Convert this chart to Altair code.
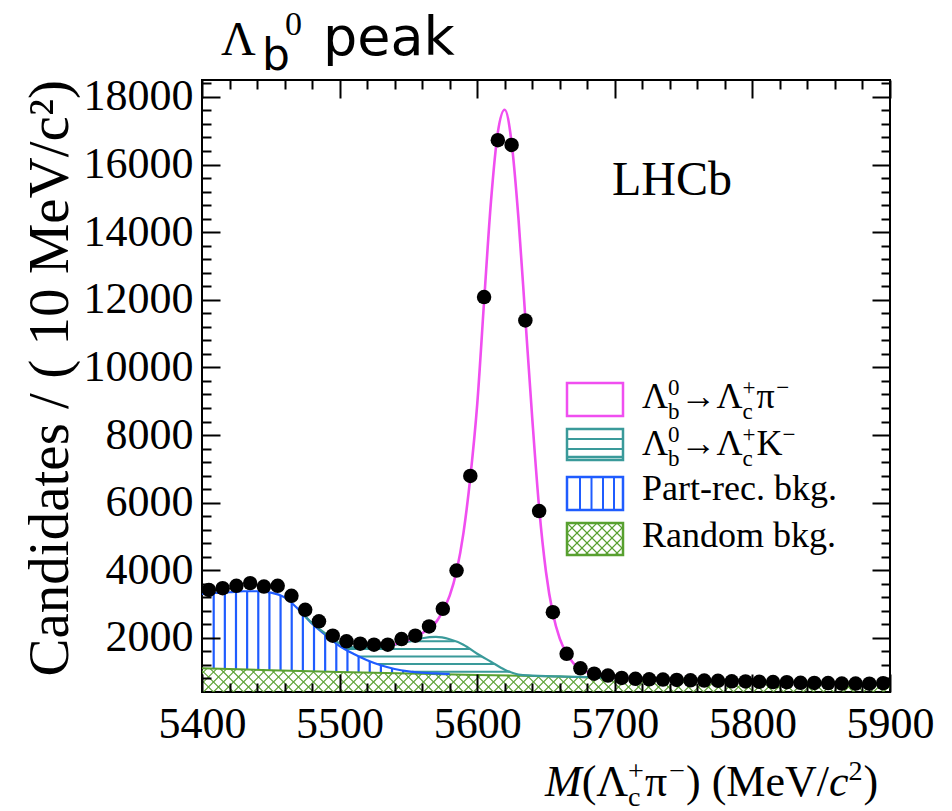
import numpy as np
import pandas as pd
import altair as alt

# ---------------------------------------------------------------
# Binned Lambda_c+ pi- invariant mass (10 MeV/c^2 bins)
# ---------------------------------------------------------------
mass = [5405, 5415, 5425, 5435, 5445, 5455, 5465, 5475, 5485, 5495,
        5505, 5515, 5525, 5535, 5545, 5555, 5565, 5575, 5585, 5595,
        5605, 5615, 5625, 5635, 5645, 5655, 5665, 5675, 5685, 5695,
        5705, 5715, 5725, 5735, 5745, 5755, 5765, 5775, 5785, 5795,
        5805, 5815, 5825, 5835, 5845, 5855, 5865, 5875, 5885, 5895]
candidates = [3420, 3470, 3540, 3620, 3520, 3540, 3245, 2830, 2490, 2065,
              1900, 1830, 1800, 1800, 1965, 2065, 2340, 2860, 3990, 6790,
              12080, 16720, 16580, 11390, 5750, 2760, 1530, 1100, 940, 885,
              817, 790, 775, 767, 755, 746, 740, 730, 717, 712,
              700, 695, 690, 672, 668, 665, 650, 648, 645, 660]

# Fit components, stacked (each array is the cumulative top of that component)
random_m = [5400, 5450, 5500, 5550, 5600, 5650, 5700, 5750, 5800, 5850, 5900]
random_v = [1105, 1045, 990, 945, 905, 865, 815, 770, 730, 690, 655]

partrec_m = [5400, 5410, 5420, 5430, 5440, 5450, 5460, 5470, 5480, 5490,
             5500, 5510, 5520, 5530, 5540, 5550, 5560, 5570, 5580]
partrec_v = [3300, 3330, 3350, 3380, 3380, 3340, 3200, 2850, 2420, 2080,
             1760, 1530, 1340, 1190, 1080, 1010, 970, 950, 935]

kaon_m = [5470, 5480, 5490, 5500, 5510, 5520, 5530, 5540, 5550, 5560,
          5570, 5580, 5590, 5600, 5610, 5620, 5630, 5640, 5650, 5660,
          5670, 5680, 5690, 5700]
kaon_v = [2850, 2440, 2120, 1840, 1720, 1700, 1720, 1790, 1890, 1990,
          2030, 1960, 1800, 1530, 1295, 1060, 915, 885, 868, 860,
          850, 838, 826, 816]

total_m = [5540, 5545, 5550, 5555, 5560, 5565, 5570, 5575, 5580, 5585,
           5590, 5595, 5600, 5605, 5610, 5615, 5620, 5625, 5630, 5635,
           5640, 5645, 5650, 5655, 5660, 5665, 5670, 5675, 5680, 5685,
           5690, 5695, 5700, 5710, 5720]
total_v = [1810, 1870, 1935, 2030, 2140, 2275, 2460, 2800, 3250, 3970,
           5100, 6750, 8900, 11950, 14900, 16950, 17620, 16650, 14400, 11450,
           8500, 5850, 3950, 2720, 1980, 1540, 1250, 1090, 990, 935,
           895, 865, 845, 815, 800]

x_major = [5400, 5500, 5600, 5700, 5800, 5900]
y_major = [2000, 4000, 6000, 8000, 10000, 12000, 14000, 16000, 18000]

# ---------------------------------------------------------------
# Frame geometry and styling
# ---------------------------------------------------------------
W, H = 688, 612
X0, Y0 = 202, 80
XDOM = [5400, 5900]
YDOM = [400, 18500]
SERIF = "Liberation Serif"
SANS = "DejaVu Sans"
MAGENTA = "#f04ef0"
TEAL = "#3a9a9a"
BLUE = "#1f5cff"
GREEN = "#58a030"

xs = alt.Scale(domain=XDOM, nice=False, zero=False)
ys = alt.Scale(domain=YDOM, nice=False, zero=False)

x_minor = [v for v in range(5420, 5900, 20) if v % 100]
y_minor = [v for v in range(800, 18500, 400) if v % 2000]

ONE = pd.DataFrame({"k": [0]})


def xenc(field):
    return alt.X(f"{field}:Q", scale=xs, axis=None)


def yenc(field):
    return alt.Y(f"{field}:Q", scale=ys, axis=None)


# ---------------------------------------------------------------
# Hatching of the stacked background components
# ---------------------------------------------------------------
kx = W / (XDOM[1] - XDOM[0])
ky = H / (YDOM[1] - YDOM[0])
slope = kx / ky  # counts per MeV for a 45 degree line on screen

fine = np.linspace(XDOM[0], XDOM[1], 10001)
g_fine = np.interp(fine, random_m, random_v)


def runs(mask):
    edges = np.flatnonzero(np.diff(np.concatenate([[0], mask.astype(int), [0]])))
    return list(zip(edges[::2], edges[1::2] - 1))


# green cross-hatch between the frame bottom and the random background
cross = []
for m0 in np.arange(5372.0, 5912.0, 10.0 / kx):
    for sgn in (1, -1):
        v = YDOM[0] + sgn * slope * (fine - m0)
        mask = (v >= YDOM[0]) & (v <= g_fine)
        for a, b in runs(mask):
            cross.append({"m1": fine[a], "v1": v[a], "m2": fine[b], "v2": v[b]})
cross_df = pd.DataFrame(cross)

# blue vertical hatch for the partially reconstructed background
vert_m = np.arange(5408.5, 5575.0, 8.1)
vert_lo = np.interp(vert_m, random_m, random_v)
vert_hi = np.interp(vert_m, partrec_m, partrec_v)
keep = vert_hi - vert_lo > 8
vert_df = pd.DataFrame({"m": vert_m[keep], "lo": vert_lo[keep], "hi": vert_hi[keep]})

# teal horizontal hatch for the misidentified Lambda_b -> Lambda_c K
kf = np.linspace(kaon_m[0], kaon_m[-1], 4601)
lower = np.where(kf <= partrec_m[-1], np.interp(kf, partrec_m, partrec_v),
                 np.interp(kf, random_m, random_v))
lower = np.maximum(lower, np.interp(kf, random_m, random_v))
upper = np.interp(kf, kaon_m, kaon_v)
horiz = []
for level in [1000, 1225, 1450, 1675, 1900]:
    mask = (lower < level) & (upper > level)
    for a, b in runs(mask):
        if kf[b] - kf[a] > 2:
            horiz.append({"m1": kf[a], "m2": kf[b], "v": level})
horiz_df = pd.DataFrame(horiz)

random_df = pd.DataFrame({"m": random_m, "v": random_v})
partrec_df = pd.DataFrame({"m": partrec_m, "v": partrec_v})
kaon_df = pd.DataFrame({"m": kaon_m, "v": kaon_v})
total_df = pd.DataFrame({"m": total_m, "v": total_v})
data_df = pd.DataFrame({"m": mass, "v": candidates})

layers = []
layers.append(alt.Chart(cross_df).mark_rule(color=GREEN, strokeWidth=1.1, clip=True).encode(
    x=xenc("m1"), y=yenc("v1"), x2="m2:Q", y2="v2:Q"))
layers.append(alt.Chart(vert_df).mark_rule(color=BLUE, strokeWidth=2.2, clip=True).encode(
    x=xenc("m"), y=yenc("lo"), y2="hi:Q"))
layers.append(alt.Chart(horiz_df).mark_rule(color=TEAL, strokeWidth=2.0, clip=True).encode(
    x=xenc("m1"), x2="m2:Q", y=yenc("v")))
layers.append(alt.Chart(random_df).mark_line(color=GREEN, strokeWidth=2.0, clip=True).encode(
    x=xenc("m"), y=yenc("v")))
layers.append(alt.Chart(partrec_df).mark_line(color=BLUE, strokeWidth=2.2, clip=True,
                                              interpolate="monotone").encode(
    x=xenc("m"), y=yenc("v")))
layers.append(alt.Chart(kaon_df).mark_line(color=TEAL, strokeWidth=2.2, clip=True,
                                           interpolate="monotone").encode(
    x=xenc("m"), y=yenc("v")))
layers.append(alt.Chart(total_df).mark_line(color=MAGENTA, strokeWidth=2.6, clip=True,
                                            interpolate="monotone").encode(
    x=xenc("m"), y=yenc("v")))
layers.append(alt.Chart(data_df).mark_circle(color="black", opacity=1, size=210).encode(
    x=xenc("m"), y=yenc("v")))

# ---------------------------------------------------------------
# Axes: labels outside, ROOT-style ticks inside on all four sides
# ---------------------------------------------------------------
common = dict(grid=False, domain=False, title=None)
lab_x = alt.Axis(values=x_major, format="d", ticks=False, labelFont=SERIF,
                 labelFontSize=44, labelColor="black", labelPadding=10,
                 labelFlush=False, labelOverlap=False, **common)
lab_y = alt.Axis(values=y_major, format="d", ticks=False, labelFont=SERIF,
                 labelFontSize=44, labelColor="black", labelPadding=9,
                 labelOverlap=False, **common)


def tick_axis(orient, offset, values, size):
    return alt.Axis(orient=orient, offset=offset, values=values, labels=False,
                    ticks=True, tickSize=size, tickWidth=2, tickColor="black",
                    zindex=2, **common)


def carrier(ax_x, ax_y):
    return alt.Chart(pd.DataFrame({"am": [5400.0], "av": [400.0]})).mark_point(
        opacity=0).encode(x=alt.X("am:Q", scale=xs, axis=ax_x),
                          y=alt.Y("av:Q", scale=ys, axis=ax_y))


layers.append(carrier(lab_x, lab_y))
layers.append(carrier(tick_axis("top", -H, x_major, 18), tick_axis("right", -W, y_major, 18)))
layers.append(carrier(tick_axis("top", -H, x_minor, 9), tick_axis("right", -W, y_minor, 9)))
layers.append(carrier(tick_axis("bottom", -H, x_major, 18), tick_axis("left", -W, y_major, 18)))
layers.append(carrier(tick_axis("bottom", -H, x_minor, 9), tick_axis("left", -W, y_minor, 9)))

# ---------------------------------------------------------------
# Text (page coordinates converted to the plot frame)
# ---------------------------------------------------------------
EM = {"M": .889, "Mi": .833, "(": .333, ")": .333, "Λ": .722, "π": .55,
      "−": .564, "+": .564, "c": .444, "ci": .444, "b": .5, "0": .5, "2": .5,
      " ": .25, "e": .444, "V": .722, "/": .278, "→": 1.0, "K": .722}


def width(s, size, italic=False):
    return sum(EM.get(ch + ("i" if italic else ""), EM.get(ch, .5)) for ch in s) * size


def txt(s, px, py, size, font=SERIF, style="normal", align="left",
        baseline="alphabetic", angle=0):
    mk = dict(text=s, fontSize=size, font=font, fontStyle=style, align=align,
              baseline=baseline, color="black")
    if angle:
        mk["angle"] = angle
    return alt.Chart(ONE).mark_text(**mk).encode(x=alt.value(px - X0), y=alt.value(py - Y0))


def formula(pieces, x, y, size, sub_drop=0.30):
    out = []
    small = size * 0.64
    for kind, t in pieces:
        if kind in ("n", "i"):
            it = kind == "i"
            out.append(txt(t, x, y, size, style="italic" if it else "normal"))
            x += width(t, size, it)
        else:
            sup, sub = t
            w = 0
            if sup:
                out.append(txt(sup, x, y - size * 0.36, small))
                w = max(w, width(sup, small))
            if sub:
                out.append(txt(sub, x, y + size * sub_drop, small))
                w = max(w, width(sub, small))
            x += w + 1
    return out


# chart heading
layers.append(txt("Λ", 221, 55, 48))
layers.append(txt("b", 262, 70, 44, font=SANS))
layers.append(txt("0", 285, 35, 34))
layers.append(txt("peak", 323, 55, 54, font=SANS))

# experiment label
layers.append(txt("LHCb", 612, 195, 48))

# axis titles
layers.append(txt("Candidates / ( 10 MeV/c²)", 68, 80, 57, align="right", angle=270))
layers += formula([("i", "M"), ("n", "(Λ"), ("ss", ("+", "c")), ("n", "π"),
                   ("ss", ("−", None)), ("n", ") (MeV/"), ("i", "c"),
                   ("ss", ("2", None)), ("n", ")")], 545, 796, 44, sub_drop=0.22)

# legend
LEG = 36
layers += formula([("n", "Λ"), ("ss", ("0", "b")), ("n", "→Λ"), ("ss", ("+", "c")),
                   ("n", "π"), ("ss", ("−", None))], 642, 408, LEG)
layers += formula([("n", "Λ"), ("ss", ("0", "b")), ("n", "→Λ"), ("ss", ("+", "c")),
                   ("n", "K"), ("ss", ("−", None))], 642, 455, LEG)
layers.append(txt("Part-rec. bkg.", 642, 500, LEG))
layers.append(txt("Random bkg.", 642, 547, LEG))


def box(x1, y1, x2, y2, color):
    return alt.Chart(ONE).mark_rect(fill="white", stroke=color, strokeWidth=2.5).encode(
        x=alt.value(x1 - X0), x2=alt.value(x2 - X0), y=alt.value(y1 - Y0), y2=alt.value(y2 - Y0))


def seg(x1, y1, x2, y2, color, sw):
    return alt.Chart(ONE).mark_rule(color=color, strokeWidth=sw).encode(
        x=alt.value(x1 - X0), x2=alt.value(x2 - X0), y=alt.value(y1 - Y0), y2=alt.value(y2 - Y0))


BX1, BX2 = 567, 623
layers.append(box(BX1, 383, BX2, 416, MAGENTA))
layers.append(box(BX1, 429, BX2, 460, TEAL))
layers.append(seg(BX1, 439, BX2, 439, TEAL, 2.0))
layers.append(seg(BX1, 449, BX2, 449, TEAL, 2.0))
layers.append(seg(BX1, 457, BX2, 457, TEAL, 2.5))
layers.append(box(BX1, 477, BX2, 510, BLUE))
for xv in [580, 591.5, 603, 614]:
    layers.append(seg(xv, 477, xv, 510, BLUE, 2.0))
layers.append(box(BX1, 523, BX2, 555, GREEN))
# green lattice inside its legend box
gy1, gy2 = 523, 555
for c0 in range(BX1 - 40, BX2 + 40, 10):
    for sgn in (1, -1):
        xa, ya = c0, gy1
        xb, yb = c0 + sgn * (gy2 - gy1), gy2
        if xa > xb:
            xa, ya, xb, yb = xb, yb, xa, ya
        if xb < BX1 or xa > BX2:
            continue
        k = (yb - ya) / (xb - xa)
        if xa < BX1:
            ya, xa = ya + (BX1 - xa) * k, BX1
        if xb > BX2:
            yb, xb = yb - (xb - BX2) * k, BX2
        layers.append(seg(xa, ya, xb, yb, GREEN, 1.1))

chart = alt.layer(*layers).resolve_axis(
    x="independent", y="independent"
).properties(
    width=W, height=H,
    padding={"left": X0, "top": Y0, "right": 952 - X0 - W, "bottom": 811 - Y0 - H},
    autosize=alt.AutoSizeParams(type="none"),
    background="white",
).configure_view(stroke="black", strokeWidth=2)

chart.save("out.html", embed_options={"renderer": "svg", "actions": False})
